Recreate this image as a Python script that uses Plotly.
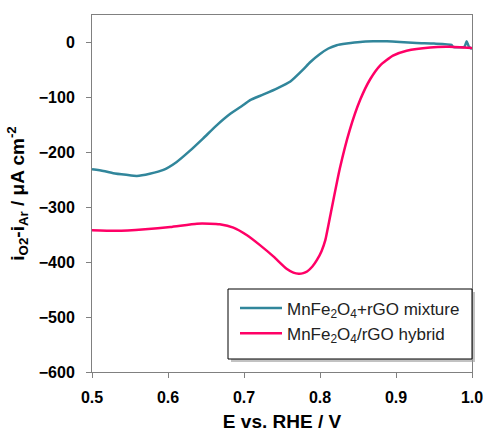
import plotly.graph_objects as go

# Mixture (teal) curve
mix_E = [0.500, 0.515, 0.528, 0.545, 0.559, 0.576, 0.594, 0.611, 0.629, 0.646, 0.664,
         0.682, 0.699, 0.708, 0.725, 0.743, 0.761, 0.778, 0.787, 0.800, 0.811, 0.822,
         0.835, 0.853, 0.870, 0.888, 0.905, 0.927, 0.950, 0.973, 0.975, 0.990, 0.993,
         0.996, 1.000]
mix_I = [-231, -234, -238, -241, -243, -239, -232, -218, -197, -175, -151,
         -130, -114, -105, -95, -84, -71, -49, -36, -21, -11, -5,
         -2, 1, 2, 2, 1, -1, -2, -4.5, -8, -8, 2,
         -8, -12]

# Hybrid (pink) curve
hyb_E = [0.500, 0.532, 0.570, 0.603, 0.638, 0.655, 0.668, 0.686, 0.704, 0.721, 0.739,
         0.756, 0.765, 0.772, 0.778, 0.783, 0.790, 0.796, 0.802, 0.807, 0.815, 0.826,
         0.839, 0.853, 0.866, 0.879, 0.896, 0.914, 0.945, 0.970, 1.000]
hyb_I = [-342, -343, -340, -336, -330, -330, -331, -337, -351, -369, -390,
         -412, -419, -421, -420, -417, -408, -396, -380, -360, -305, -230,
         -160, -104, -67, -42, -24, -15, -9, -8, -10]

TEAL = "#31869b"
PINK = "#ff0066"

fig = go.Figure()
fig.add_trace(go.Scatter(x=mix_E, y=mix_I, mode="lines",
                         line=dict(color=TEAL, width=2.5, shape="spline", smoothing=0.5),
                         name="MnFe<sub>2</sub>O<sub>4</sub>+rGO mixture"))
fig.add_trace(go.Scatter(x=hyb_E, y=hyb_I, mode="lines",
                         line=dict(color=PINK, width=2.5, shape="spline", smoothing=0.5),
                         name="MnFe<sub>2</sub>O<sub>4</sub>/rGO hybrid"))

font_family = "Liberation Sans, Arial, sans-serif"

W, H = 483, 432
L, R, T, B = 92, 472, 15, 372  # plot area in window pixels
PW, PH = R - L, B - T


def px_x(p):
    return (p - L) / PW


def px_y(p):
    return (B - p) / PH


# legend shadow and frame
fig.add_shape(type="rect", xref="paper", yref="paper",
              x0=px_x(231), x1=px_x(475), y0=px_y(362), y1=px_y(292),
              fillcolor="#9a9a9a", line=dict(width=0), layer="above", opacity=0.6)
fig.add_shape(type="rect", xref="paper", yref="paper",
              x0=px_x(228), x1=px_x(472), y0=px_y(359), y1=px_y(289),
              fillcolor="white", line=dict(color="black", width=1), layer="above")

fig.update_layout(
    width=W, height=H,
    margin=dict(l=L, r=W - R, t=T, b=H - B),
    paper_bgcolor="white", plot_bgcolor="white",
    font=dict(family=font_family, color="black"),
    showlegend=True,
    hovermode=False,
    legend=dict(x=px_x(235), y=px_y(321), xanchor="left", yanchor="middle",
                bgcolor="rgba(0,0,0,0)", borderwidth=0,
                font=dict(size=17, family=font_family, color="#222"),
                itemwidth=42),
    xaxis=dict(range=[0.5, 1.0], dtick=0.1, tickformat=".1f",
               showgrid=False, zeroline=False, automargin=False,
               showline=True, linecolor="#808080", linewidth=1, mirror=True,
               ticks="outside", ticklen=5, tickcolor="#808080",
               tickfont=dict(size=16, family=font_family, weight="bold"),
               ticklabelstandoff=6, ticklabeloverflow="allow",
               title=dict(text="<b>E vs. RHE / V</b>",
                          font=dict(size=19, family=font_family), standoff=14)),
    yaxis=dict(range=[-600, 50], tickvals=[0, -100, -200, -300, -400, -500, -600],
               showgrid=False, zeroline=False, automargin=False,
               showline=True, linecolor="#808080", linewidth=1, mirror=True,
               ticks="outside", ticklen=5, tickcolor="#808080",
               tickfont=dict(size=16, family=font_family, weight="bold"),
               ticklabelstandoff=8, ticklabeloverflow="allow",
               title=dict(text="<b>i<sub>O2</sub>-i<sub>Ar</sub> / \u03bcA cm<sup>-2</sup></b>",
                          font=dict(size=19, family=font_family), standoff=9)),
)

fig.write_html("out.html", config={"displayModeBar": False},
               post_script="document.body.style.margin='0';document.body.style.overflow='hidden';")
